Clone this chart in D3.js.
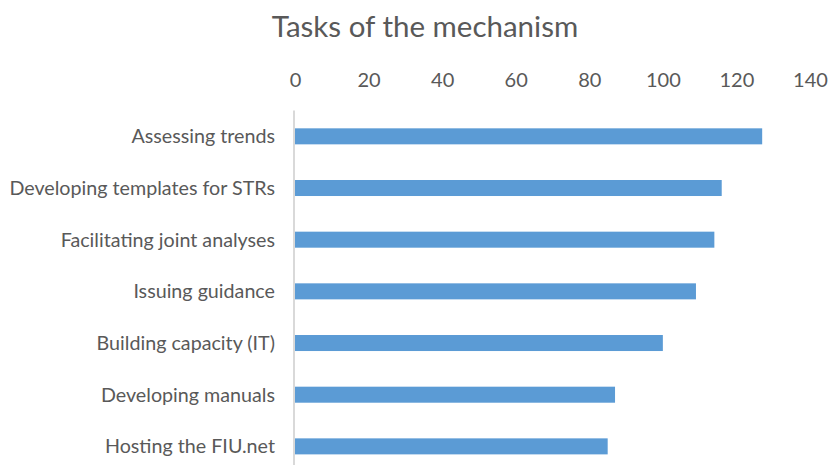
<!DOCTYPE html>
<html>
<head>
<meta charset="utf-8">
<script src="https://cdn.jsdelivr.net/npm/d3@7"></script>
<style>
  html, body { margin: 0; padding: 0; background: #fff; }
  svg { display: block; }
  text { font-family: Lato, "Open Sans", sans-serif; fill: #595959; }
</style>
</head>
<body>
<svg id="chart"></svg>
<script>
const tasks = [
  'Assessing trends',
  'Developing templates for STRs',
  'Facilitating joint analyses',
  'Issuing guidance',
  'Building capacity (IT)',
  'Developing manuals',
  'Hosting the FIU.net'
];
const counts = [127, 116, 114, 109, 100, 87, 85];
const xTicks = [0, 20, 40, 60, 80, 100, 120, 140];
const chartTitle = 'Tasks of the mechanism';

const width = 832;
const height = 465;
const plot = { left: 295, right: 810, top: 110.5, bottom: 472.2 };

const svg = d3.select('#chart')
  .attr('width', width)
  .attr('height', height);

const x = d3.scaleLinear()
  .domain([0, 140])
  .range([plot.left, plot.right]);

const y = d3.scaleBand()
  .domain(tasks)
  .range([plot.top, plot.bottom])
  .paddingInner(0.69)
  .paddingOuter(0.345);

// title
svg.append('text')
  .attr('x', 425)
  .attr('y', 36.5)
  .attr('text-anchor', 'middle')
  .style('font-size', '29.5px')
  .text(chartTitle);

// value axis on top, no line, no ticks
const xAxis = svg.append('g')
  .attr('transform', `translate(0,${plot.top})`)
  .call(d3.axisTop(x).tickValues(xTicks).tickSize(0).tickPadding(23.5));
xAxis.select('.domain').remove();
xAxis.selectAll('text')
  .style('font-size', '20px')
  .style('font-family', 'Lato, "Open Sans", sans-serif')
  .attr('fill', '#595959');

// bars
svg.append('g')
  .selectAll('rect')
  .data(tasks)
  .enter()
  .append('rect')
  .attr('x', x(0))
  .attr('y', d => y(d))
  .attr('width', (d, i) => x(counts[i]) - x(0))
  .attr('height', y.bandwidth())
  .attr('fill', '#5b9bd5');

// category axis line
svg.append('line')
  .attr('x1', x(0) - 1)
  .attr('x2', x(0) - 1)
  .attr('y1', plot.top)
  .attr('y2', plot.bottom)
  .attr('stroke', '#d9d9d9')
  .attr('stroke-width', 2);

// category labels
svg.append('g')
  .selectAll('text')
  .data(tasks)
  .enter()
  .append('text')
  .attr('x', 275)
  .attr('y', d => y(d) + y.bandwidth() / 2)
  .attr('dy', '0.36em')
  .attr('text-anchor', 'end')
  .style('font-size', '19.7px')
  .text(d => d);
</script>
</body>
</html>
